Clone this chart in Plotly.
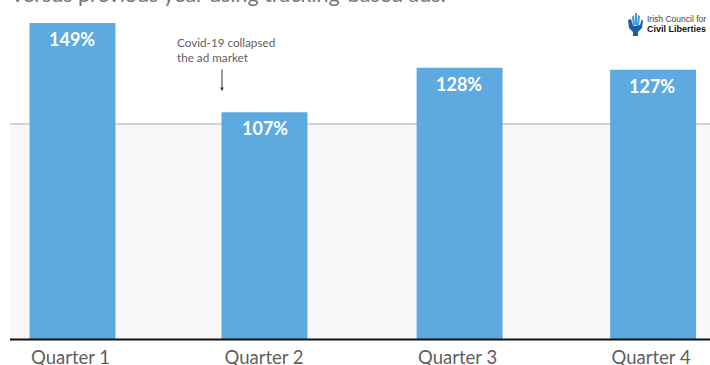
import plotly.graph_objects as go

quarters = ["Quarter 1", "Quarter 2", "Quarter 3", "Quarter 4"]
revenue_index = [149, 107, 128, 127]
value_labels = ["149%", "107%", "128%", "127%"]
reference_level = 101.4

WIDTH, HEIGHT = 710, 365
FONT = "Lato"
BAR = "#5eaae0"
TEXT = "#5f5f5f"


def px(x):
    return x / WIDTH


def py(y):
    return 1 - y / 339


def logo_path(points):
    return "M" + "L".join(f"{px(a):.4f},{py(b):.4f}" for a, b in points) + "Z"


fig = go.Figure()
fig.add_bar(
    x=quarters,
    y=revenue_index,
    width=0.444,
    offset=[-0.222, -0.23, -0.222, -0.222],
    marker=dict(color=BAR, line_width=0),
    hoverinfo="skip",
)

shapes = [
    # Shaded zone under the reference level
    dict(type="rect", layer="below", xref="paper", yref="y", x0=px(10), x1=1,
         y0=0, y1=reference_level, fillcolor="#f8f8f8", line_width=0),
    dict(type="line", layer="below", xref="paper", yref="y", x0=px(10), x1=1,
         y0=reference_level, y1=reference_level, line=dict(color="#aaaaaa", width=1)),
    # Baseline
    dict(type="line", layer="above", xref="paper", yref="paper", x0=px(10), x1=1,
         y0=py(339.5), y1=py(339.5), line=dict(color="#111111", width=2)),
    # Council emblem: a raised hand
    dict(type="path", xref="paper", yref="paper", layer="above", line_width=0,
         fillcolor="#1b5f9e",
         path=logo_path([(628, 20), (631, 19), (633, 25), (634, 26), (640, 25),
                         (642, 19), (643, 21), (642, 28), (638, 32), (638, 36),
                         (633, 36), (633, 32), (629, 28)])),
    dict(type="path", xref="paper", yref="paper", layer="above", line_width=0,
         fillcolor="#3f9bd6",
         path=logo_path([(632, 17), (634, 15), (635, 25), (633, 25)])),
    dict(type="path", xref="paper", yref="paper", layer="above", line_width=0,
         fillcolor="#3f9bd6",
         path=logo_path([(635, 13), (637, 13), (637, 25), (635, 25)])),
    dict(type="path", xref="paper", yref="paper", layer="above", line_width=0,
         fillcolor="#3f9bd6",
         path=logo_path([(638, 15), (640, 16), (639, 25), (637, 25)])),
]

annotations = [
    dict(x=q, y=v, yref="y", text=f"<b>{t}</b>", showarrow=False, yanchor="top",
         yshift=-3, xshift=-1, font=dict(family=FONT, size=18, color="white"))
    for q, v, t in zip(quarters, revenue_index, value_labels)
]
annotations += [
    # Title line running off the top edge
    dict(x=px(10), y=py(5), xref="paper", yref="paper", xanchor="left", yanchor="bottom",
         text="versus previous year using tracking-based ads.", showarrow=False,
         yshift=-4, font=dict(family=FONT, size=21.5, color="#777777")),
    dict(x=px(175), y=py(50), xref="paper", yref="paper", xanchor="left", yanchor="middle",
         align="left", text="Covid-19 collapsed<br>the ad market", showarrow=False,
         font=dict(family=FONT, size=11.7, color=TEXT)),
    dict(x=px(222), y=py(91), xref="paper", yref="paper", ax=0, ay=-23, text="",
         showarrow=True, arrowhead=2, arrowsize=0.7, arrowwidth=1, arrowcolor="#333333"),
    dict(x=px(708), y=py(19.5), xref="paper", yref="paper", xanchor="right", yanchor="middle",
         text="Irish Council for", showarrow=False,
         font=dict(family="Liberation Sans", size=8.5, color="#444444")),
    dict(x=px(708), y=py(28.5), xref="paper", yref="paper", xanchor="right", yanchor="middle",
         text="<b>Civil Liberties</b>", showarrow=False,
         font=dict(family="Liberation Sans", size=9, color="#111111")),
]

fig.update_layout(
    width=WIDTH,
    height=HEIGHT,
    margin=dict(l=0, r=0, t=0, b=26),
    paper_bgcolor="white",
    plot_bgcolor="rgba(0,0,0,0)",
    showlegend=False,
    shapes=shapes,
    annotations=annotations,
    xaxis=dict(
        type="category",
        automargin=False,
        range=[-0.3747, 3.294],
        showgrid=False,
        zeroline=False,
        showline=False,
        ticks="",
        ticklabelstandoff=5,
        ticklabelshift=-2,
        tickfont=dict(family=FONT, size=18.5, color=TEXT),
    ),
    yaxis=dict(range=[0, 159.9], visible=False, fixedrange=True),
)

fig.write_html("out.html", config=dict(displayModeBar=False))
